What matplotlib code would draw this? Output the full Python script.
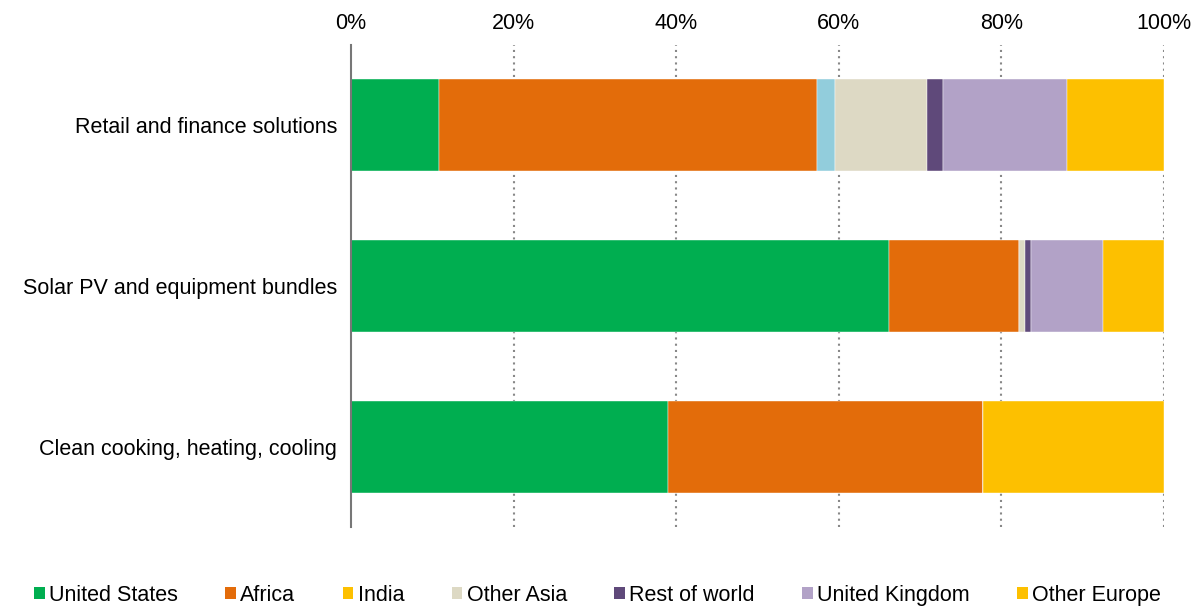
import numpy as np
import matplotlib.pyplot as plt
from matplotlib.patches import Patch

plt.rcParams['font.family'] = ['Liberation Sans', 'DejaVu Sans']

categories = ["Retail and finance solutions", "Solar PV and equipment bundles", "Clean cooking, heating, cooling"]
series = ["United States", "Africa", "India", "Other Asia", "Rest of world", "United Kingdom", "Other Europe"]

us = [10.8, 66.2, 39.0]
africa = [46.5, 16.0, 38.7]
india = [2.2, 0.0, 0.0]
other_asia = [11.4, 0.7, 0.0]
rest_of_world = [1.9, 0.7, 0.0]
uk = [15.3, 8.9, 0.0]
other_europe = [11.9, 7.5, 22.3]

values = [us, africa, india, other_asia, rest_of_world, uk, other_europe]
bar_colors = ["#00AE50", "#E36C0A", "#92CDDC", "#DDD9C4", "#5F497A", "#B2A2C7", "#FDC000"]
# legend swatch for India is gold in the original
legend_colors = ["#00AE50", "#E36C0A", "#FDC000", "#DDD9C4", "#5F497A", "#B2A2C7", "#FDC000"]

fig = plt.figure(figsize=(11.95, 6.1), dpi=100)
ax = fig.add_axes([351 / 1195, 1 - 527 / 610, (1164 - 351) / 1195, (527 - 45) / 610])

y = np.arange(len(categories))
left = np.zeros(len(categories))
for name, vals, col in zip(series, values, bar_colors):
    vals = np.array(vals)
    ax.barh(y, vals, left=left, height=0.573, color=col, edgecolor='white', linewidth=0.3, zorder=3)
    left += vals

ax.set_xlim(0, 100)
ax.set_ylim(2.5, -0.5)
ax.set_yticks(y)
ax.set_yticklabels(categories, fontsize=15.5)
ax.set_xticks([0, 20, 40, 60, 80, 100])
ax.set_xticklabels([f"{t}%" for t in [0, 20, 40, 60, 80, 100]], fontsize=15.5)
ax.xaxis.tick_top()
ax.tick_params(axis='x', length=0, pad=8)
ax.tick_params(axis='y', length=0, pad=10)

for t in [20, 40, 60, 80, 100]:
    ax.axvline(t, color='#888888', linestyle=(0, (1, 2)), linewidth=1.5, zorder=1)

for s in ['top', 'right', 'bottom']:
    ax.spines[s].set_visible(False)
ax.spines['left'].set_color('#777777')
ax.spines['left'].set_linewidth(1.5)
ax.spines['left'].set_zorder(4)

handles = [Patch(facecolor=c, label=n) for n, c in zip(series, legend_colors)]
fig.legend(handles=handles, loc='lower center', bbox_to_anchor=(0.5, -0.025), ncol=7, frameon=False,
           fontsize=15.5, handlelength=0.5, handleheight=0.5, handletextpad=0.2, columnspacing=2.2)

fig.savefig("out.png", dpi=100)
